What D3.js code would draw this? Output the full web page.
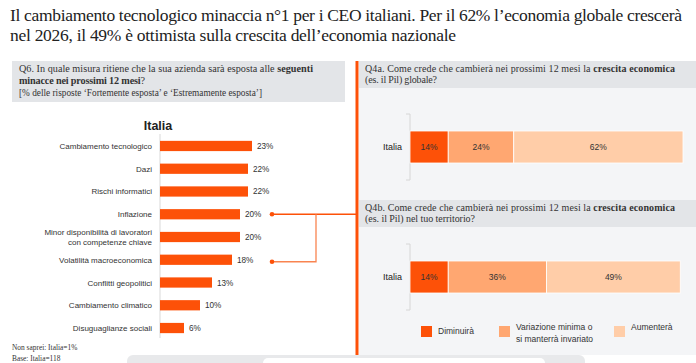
<!DOCTYPE html>
<html>
<head>
<meta charset="utf-8">
<script src="https://cdn.jsdelivr.net/npm/d3@7"></script>
<style>
  body { margin: 0; background: #fff; }
  svg { display: block; }
  .serif { font-family: "Liberation Serif", "DejaVu Serif", serif; }
  .sans { font-family: "Liberation Sans", Arial, sans-serif; }
</style>
</head>
<body>
<script>
// threats (Q6)
var threats = ["Cambiamento tecnologico", "Dazi", "Rischi informatici", "Inflazione",
  "Minor disponibilità di lavoratori|con competenze chiave", "Volatilità macroeconomica",
  "Conflitti geopolitici", "Cambiamento climatico", "Disuguaglianze sociali"];
var threatValues = [23, 22, 22, 20, 20, 18, 13, 10, 6];

// Q4a / Q4b stacked
var answers = ["Diminuirà", "Variazione minima o|si manterrà invariato", "Aumenterà"];
var globalValues = [14, 24, 62];
var localValues = [14, 36, 49];
var colors = ["#fd5108", "#ffa771", "#ffcda8"];

var W = 696, H = 363;
var orange = "#fd5108";

var svg = d3.select("body").append("svg").attr("width", W).attr("height", H);

// title
var title = svg.append("g").attr("class", "serif").attr("fill", "#222").attr("font-size", 17.5);
title.append("text").attr("x", 10).attr("y", 21)
  .attr("textLength", 672).attr("lengthAdjust", "spacing")
  .text("Il cambiamento tecnologico minaccia n°1 per i CEO italiani. Per il 62% l’economia globale crescerà");
title.append("text").attr("x", 10).attr("y", 41)
  .attr("textLength", 446).attr("lengthAdjust", "spacing")
  .text("nel 2026, il 49% è ottimista sulla crescita dell’economia nazionale");

// left header box
svg.append("rect").attr("x", 12).attr("y", 61).attr("width", 333).attr("height", 41).attr("fill", "#e3e5e8");
var q6 = svg.append("g").attr("class", "serif").attr("font-size", 10.2).attr("fill", "#333");
var l1 = q6.append("text").attr("x", 19).attr("y", 72).attr("textLength", 294).attr("lengthAdjust", "spacing");
l1.append("tspan").text("Q6. In quale misura ritiene che la sua azienda sarà esposta alle ");
l1.append("tspan").attr("font-weight", "bold").text("seguenti");
var l2 = q6.append("text").attr("x", 19).attr("y", 84).attr("textLength", 126).attr("lengthAdjust", "spacing");
l2.append("tspan").attr("font-weight", "bold").text("minacce nei prossimi 12 mesi");
l2.append("tspan").text("?");
q6.append("text").attr("x", 19).attr("y", 96).attr("textLength", 243).attr("lengthAdjust", "spacingAndGlyphs")
  .text("[% delle risposte ‘Fortemente esposta’ e ‘Estremamente esposta’]");

svg.append("text").attr("class", "sans").attr("x", 158).attr("y", 130)
  .attr("text-anchor", "middle").attr("font-size", 12.5).attr("font-weight", "bold").attr("fill", "#222")
  .text("Italia");

// left bar chart
var x = d3.scaleLinear().domain([0, 25]).range([160, 260]);
var y = d3.scaleBand().domain(threats).range([134.6, 339.4]).paddingInner(0.55).paddingOuter(0.275);

svg.append("line").attr("x1", 160).attr("x2", 160).attr("y1", 134).attr("y2", 338)
  .attr("stroke", "#d9d9d9").attr("stroke-width", 1);

svg.selectAll(".bar").data(threats).enter().append("rect")
  .attr("x", x(0)).attr("y", function(d){ return y(d); })
  .attr("width", function(d, i){ return x(threatValues[i]) - x(0); })
  .attr("height", y.bandwidth()).attr("fill", orange);

svg.selectAll(".val").data(threats).enter().append("text").attr("class", "sans")
  .attr("x", function(d, i){ return x(threatValues[i]) + 5; })
  .attr("y", function(d){ return y(d) + y.bandwidth() / 2 + 3; })
  .attr("font-size", 8.2).attr("fill", "#333")
  .text(function(d, i){ return threatValues[i] + "%"; });

svg.selectAll(".cat").data(threats).enter().append("text").attr("class", "sans")
  .attr("text-anchor", "end").attr("font-size", 8).attr("fill", "#333")
  .each(function(d){
    var parts = d.split("|");
    var cy = y(d) + y.bandwidth() / 2 + 3 - (parts.length - 1) * 5;
    var t = d3.select(this);
    parts.forEach(function(p, k){
      t.append("tspan").attr("x", 152).attr("y", cy + k * 10).text(p);
    });
  });

// connector
var yInf = y(threats[3]) + y.bandwidth() / 2;
var yVol = y(threats[5]) + y.bandwidth() / 2 + 2;
var conn = svg.append("g").attr("stroke", orange).attr("fill", "none").attr("stroke-width", 1.3);
conn.append("path").attr("d", "M272," + yInf + "H357");
conn.append("path").attr("d", "M272," + yVol + "H316V" + yInf).attr("stroke", "#f98450");
svg.append("circle").attr("cx", 272).attr("cy", yInf).attr("r", 2.3).attr("fill", orange);
svg.append("circle").attr("cx", 272).attr("cy", yVol).attr("r", 2.3).attr("fill", orange);

// footnotes
var foot = svg.append("g").attr("class", "serif").attr("font-size", 7.4).attr("fill", "#333");
foot.append("text").attr("x", 12).attr("y", 350).text("Non saprei: Italia=1%");
foot.append("text").attr("x", 12).attr("y", 361).text("Base: Italia=118");

// bottom peeking boxes
svg.append("rect").attr("x", 127).attr("y", 355).attr("width", 458).attr("height", 20).attr("rx", 6).attr("fill", "#e8e9eb");
svg.append("rect").attr("x", 263).attr("y", 358).attr("width", 282).attr("height", 20).attr("rx", 5).attr("fill", "#fff");

// right panels
svg.append("rect").attr("x", 359).attr("y", 61).attr("width", W - 359).attr("height", 294).attr("fill", "#f4f5f7");
svg.append("rect").attr("x", 359).attr("y", 61).attr("width", W - 359).attr("height", 27).attr("fill", "#e3e5e8");
svg.append("rect").attr("x", 359).attr("y", 200).attr("width", W - 359).attr("height", 27).attr("fill", "#e3e5e8");
svg.append("rect").attr("x", 355.5).attr("y", 61).attr("width", 3).attr("height", 294).attr("fill", orange);

function header(y0, rest, w2) {
  var g = svg.append("g").attr("class", "serif").attr("font-size", 10).attr("fill", "#333");
  var a = g.append("text").attr("x", 365).attr("y", y0).attr("textLength", 310).attr("lengthAdjust", "spacing");
  a.append("tspan").text("Q4" + rest[0] + ". Come crede che cambierà nei prossimi 12 mesi la ");
  a.append("tspan").attr("font-weight", "bold").text("crescita economica");
  g.append("text").attr("x", 365).attr("y", y0 + 11).attr("textLength", w2).attr("lengthAdjust", "spacing").text(rest[1]);
}
header(72, ["a", "(es. il Pil) globale?"], 72);
header(211, ["b", "(es. il Pil) nel tuo territorio?"], 110);

var xs = d3.scaleLinear().domain([0, 100]).range([410, 683]);

function stacked(vals, y0, y1, b0, b1) {
  var g = svg.append("g");
  g.append("path").attr("d", "M406," + b0 + "H410V" + b1 + "H406")
    .attr("fill", "none").attr("stroke", "#d6d6d6");
  var cum = 0;
  vals.forEach(function(v, i){
    var s = cum; cum += v;
    g.append("rect").attr("x", xs(s)).attr("y", y0).attr("width", xs(cum) - xs(s)).attr("height", y1 - y0)
      .attr("fill", colors[i]).attr("stroke", "#fff").attr("stroke-width", 0.8);
    g.append("text").attr("class", "sans").attr("x", (xs(s) + xs(cum)) / 2).attr("y", (y0 + y1) / 2 + 3)
      .attr("text-anchor", "middle").attr("font-size", 8.5).attr("fill", "#333").text(v + "%");
  });
  g.append("text").attr("class", "sans").attr("x", 402).attr("y", (y0 + y1) / 2 + 3)
    .attr("text-anchor", "end").attr("font-size", 9).attr("fill", "#222").text("Italia");
}
stacked(globalValues, 131, 163, 114, 180);
stacked(localValues, 261, 293, 244, 310);

// legend
var lx = [421, 499, 614];
answers.forEach(function(a, i){
  svg.append("rect").attr("x", lx[i]).attr("y", 326).attr("width", 11).attr("height", 11).attr("fill", colors[i]);
  var parts = a.split("|");
  var t = svg.append("text").attr("class", "sans").attr("font-size", 8.5).attr("fill", "#333");
  parts.forEach(function(p, k){
    t.append("tspan").attr("x", lx[i] + 17).attr("y", (parts.length > 1 ? 330 : (i == 0 ? 334 : 330)) + k * 11.5).text(p);
  });
});
</script>
</body>
</html>
